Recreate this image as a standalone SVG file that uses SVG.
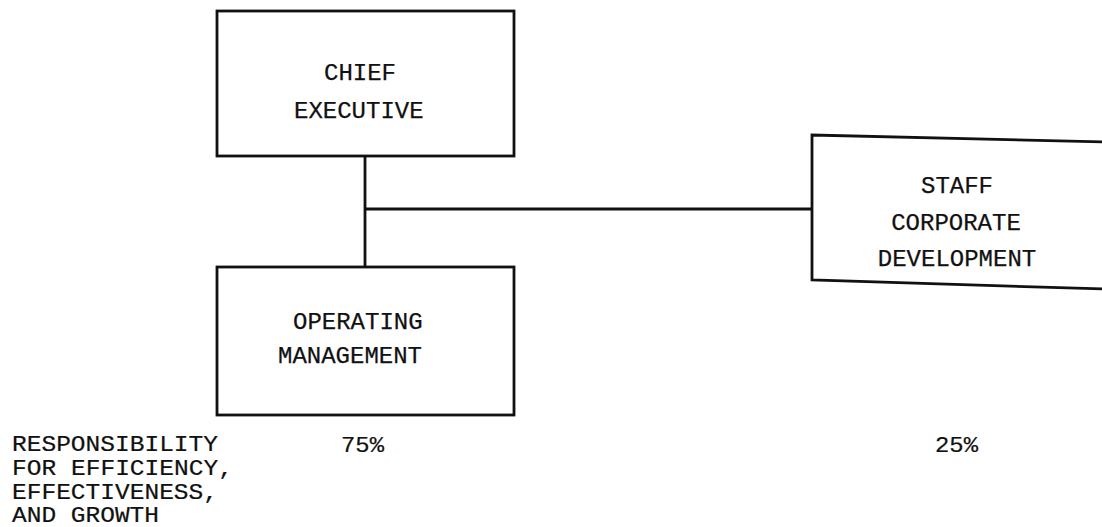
<svg xmlns="http://www.w3.org/2000/svg" width="1102" height="527" viewBox="0 0 1102 527">
<style>
.box{fill:none;stroke:#111;stroke-width:2.8;stroke-linejoin:miter}
.line{fill:none;stroke:#111;stroke-width:2.8}
.lbl{font-family:"Liberation Mono","Courier New",monospace;font-size:24px;fill:#111;stroke:#111;stroke-width:0.25}
.note{font-family:"Liberation Mono","Courier New",monospace;font-size:22.5px;fill:#111;stroke:#111;stroke-width:0.2}
</style>
<rect width="1102" height="527" fill="#fff"/>
<g id="connectors">
<line class="line" x1="365" y1="156" x2="365" y2="267"/>
<line class="line" x1="365" y1="209" x2="812" y2="209"/>
</g>
<g id="chief-executive">
<rect class="box" x="217" y="11" width="297" height="145"/>
<text class="lbl" x="324" y="80">CHIEF</text>
<text class="lbl" x="294" y="118">EXECUTIVE</text>
</g>
<g id="operating-management">
<rect class="box" x="217" y="267" width="297" height="148"/>
<text class="lbl" x="293" y="329">OPERATING</text>
<text class="lbl" x="278" y="363">MANAGEMENT</text>
</g>
<g id="staff-corporate-development">
<polyline class="box" points="1104,142 812,135 812,280 1104,289"/>
<text class="lbl" x="957" y="193" text-anchor="middle">STAFF</text>
<text class="lbl" x="956" y="230" text-anchor="middle">CORPORATE</text>
<text class="lbl" x="957" y="266" text-anchor="middle">DEVELOPMENT</text>
</g>
<g id="notes">
<text class="note" x="12" y="451" textLength="206" lengthAdjust="spacingAndGlyphs">RESPONSIBILITY</text>
<text class="note" x="12" y="475" textLength="221" lengthAdjust="spacingAndGlyphs">FOR EFFICIENCY,</text>
<text class="note" x="12" y="499" textLength="206" lengthAdjust="spacingAndGlyphs">EFFECTIVENESS,</text>
<text class="note" x="12" y="522" textLength="147" lengthAdjust="spacingAndGlyphs">AND GROWTH</text>
<text class="note" x="341" y="452" textLength="43" lengthAdjust="spacingAndGlyphs">75%</text>
<text class="note" x="935" y="452" textLength="43" lengthAdjust="spacingAndGlyphs">25%</text>
</g>
</svg>
